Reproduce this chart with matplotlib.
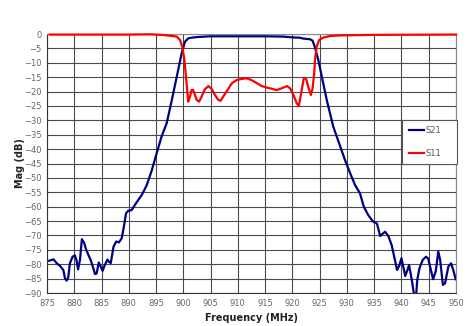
import matplotlib
matplotlib.use("Agg")
import matplotlib.pyplot as plt
import numpy as np

# S21
f21 = [875.4, 876.2, 876.8, 877.4, 878.0, 878.3, 878.6, 878.9, 879.2, 879.7,
       880.1, 880.4, 880.7, 881.05, 881.4, 881.8, 882.2, 882.6, 883.0, 883.4,
       883.8, 884.1, 884.5, 884.8, 885.2, 885.6, 886.1, 886.4, 886.7, 887.2,
       887.7, 888.2, 888.7, 889.1, 889.5, 889.9, 890.5, 891.4, 892.4, 893.3,
       894.2, 895.1, 896.0, 896.95, 897.9, 898.8, 899.7, 900.3, 900.9, 901.8,
       903.0, 904.9, 910.0, 915.0, 918.3, 920.2, 921.4, 922.0, 923.2, 923.7,
       924.1, 924.75, 925.4, 926.3, 927.5, 929.0, 929.65, 930.6, 931.5, 932.4,
       933.1, 933.9, 934.8, 935.5, 936.1, 936.5, 937.0, 937.6, 938.2, 938.8,
       939.2, 939.6, 940.0, 940.7, 941.1, 941.4, 941.9, 942.3, 942.7, 942.9,
       943.3, 943.9, 944.5, 944.9, 945.4, 945.8, 946.3, 946.75, 947.1, 947.6,
       948.0, 948.6, 949.1, 949.5, 949.95]
s21 = [-78.8, -78.3, -79.7, -80.6, -82.0, -84.9, -85.7, -84.6, -79.7, -77.4,
       -76.9, -78.5, -81.8, -78.5, -71.3, -72.5, -75.0, -76.8, -78.5, -80.8,
       -83.4, -83.2, -79.4, -80.6, -82.3, -80.3, -78.4, -79.2, -79.6, -73.9,
       -72.1, -72.4, -71.0, -67.0, -62.3, -61.4, -61.2, -58.6, -55.9, -52.5,
       -47.5, -41.5, -35.7, -31.0, -22.9, -14.8, -6.7, -2.7, -1.5, -1.2,
       -1.0, -0.8, -0.8, -0.8, -0.9, -1.2, -1.3, -1.6, -1.8, -2.3,
       -4.4, -9.0, -14.8, -22.9, -32.2, -40.3, -43.8, -48.4, -52.5, -55.4,
       -60.0, -62.9, -65.2, -65.8, -70.2, -69.5, -68.7, -70.2, -73.3, -78.5,
       -82.0, -80.5, -77.9, -84.1, -82.0, -80.3, -85.5, -90.5, -90.5, -85.5,
       -81.4, -78.5, -77.4, -78.0, -82.0, -85.2, -82.4, -75.6, -78.5, -87.2,
       -86.6, -80.8, -79.7, -82.0, -85.2]

# S11
f11 = [875.5, 880.0, 890.0, 893.9, 896.0, 897.6, 898.8, 899.4, 899.8, 900.2,
       900.6, 900.9, 901.2, 901.5, 901.8, 902.1, 902.45, 902.9, 903.35, 903.95,
       904.6, 905.2, 905.8, 906.4, 906.85, 907.3, 908.1, 908.9, 909.8, 910.7,
       911.6, 912.5, 913.5, 914.4, 915.3, 916.2, 917.1, 918.0, 919.0, 919.6,
       920.2, 920.8, 921.2, 921.7, 922.1, 922.5, 922.9, 923.4, 923.7, 924.0,
       924.15, 924.45, 924.9, 925.7, 926.9, 928.7, 935.0, 950.0]
s11 = [-0.2, -0.2, -0.2, -0.1, -0.3, -0.6, -0.9, -2.1, -4.4, -9.0,
       -17.1, -23.5, -22.0, -19.5, -19.4, -21.0, -22.9, -23.5, -21.8, -19.2,
       -18.1, -19.1, -21.2, -22.9, -23.2, -21.8, -19.5, -17.1, -16.0, -15.6,
       -15.4, -16.0, -17.1, -18.1, -18.6, -19.0, -19.5, -18.9, -18.1, -18.9,
       -21.2, -24.1, -25.0, -19.5, -15.4, -15.5, -18.3, -21.2, -19.0, -13.7,
       -9.0, -4.4, -2.1, -1.2, -0.7, -0.5, -0.3, -0.2]

xticks = np.arange(875, 951, 5)
yticks = np.arange(-90, 1, 5)

fig = plt.figure(figsize=(4.67, 3.26), dpi=100)
ax = fig.add_axes([0.1006, 0.1012, 0.8758, 0.7945])

ax.plot(f21, s21, color='#000080', lw=1.6, label='S21', zorder=3)
ax.plot(f11, s11, color='#ff0000', lw=1.6, label='S11', zorder=4, clip_on=False)

ax.set_xlim(875, 950)
ax.set_ylim(-90, 0)
ax.set_xticks(xticks)
ax.set_yticks(yticks)
ax.grid(True, color='#4a4a4a', lw=0.8)
ax.set_axisbelow(True)
ax.tick_params(labelsize=6, colors='#666666', length=0, pad=4)
for s in ax.spines.values():
    s.set_color('#888888')
    s.set_linewidth(0.8)
ax.spines['left'].set_color('#333333')
ax.spines['bottom'].set_color('#333333')

ax.set_xlabel('Frequency (MHz)', fontsize=7, fontweight='bold', color='#222222', labelpad=4)
ax.set_ylabel('Mag (dB)', fontsize=7, fontweight='bold', color='#222222', labelpad=-1)

leg = ax.legend(loc='center', bbox_to_anchor=(0.868, 0.498, 0.135, 0.17),
                mode='expand', fontsize=6, frameon=True, fancybox=False,
                edgecolor='#555555', framealpha=1, labelspacing=1.6,
                handlelength=1.8, handletextpad=0.2, borderpad=0.8,
                borderaxespad=0)
leg.set_zorder(5)
for t in leg.get_texts():
    t.set_color('#555555')
leg.get_frame().set_linewidth(0.8)

fig.savefig('out.png', dpi=100)
